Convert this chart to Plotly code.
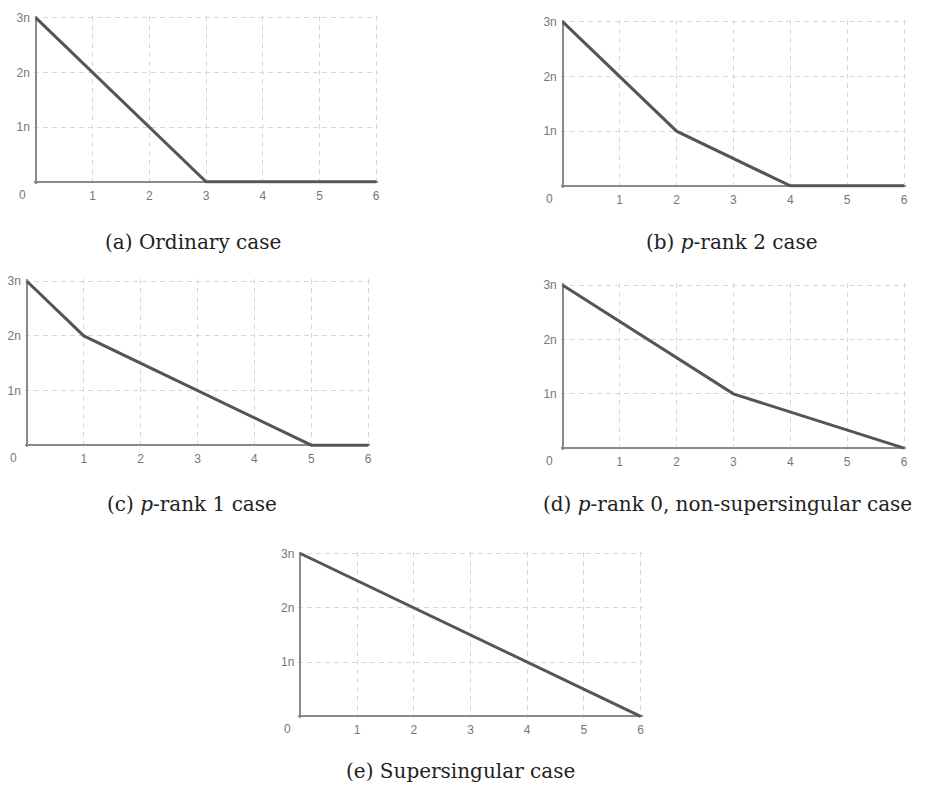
import plotly.graph_objects as go

# Data: Newton-polygon-like slopes for each case
xa = [0, 3, 6]
ya = [3, 0, 0]
xb = [0, 2, 4, 6]
yb = [3, 1, 0, 0]
xc = [0, 1, 5, 6]
yc = [3, 2, 0, 0]
xd = [0, 3, 6]
yd = [3, 1, 0]
xe = [0, 6]
ye = [3, 0]

x_ticks = [1, 2, 3, 4, 5, 6]
x_labels = ["1", "2", "3", "4", "5", "6"]
y_ticks = [1, 2, 3]
y_labels = ["1n", "2n", "3n"]

captions = [
    "(a) Ordinary case",
    "(b) <i>p</i>-rank 2 case",
    "(c) <i>p</i>-rank 1 case",
    "(d) <i>p</i>-rank 0, non-supersingular case",
    "(e) Supersingular case",
]

W, H = 925, 790
# pixel boxes of each plot area: (left, right, top, bottom)
boxes = [
    (36, 377, 13, 178),
    (564, 906, 17, 182),
    (27, 369, 278, 443),
    (564, 906, 282, 446),
    (301, 642, 552, 716),
]
caption_pos = [(193, 239), (733, 239), (192, 502), (729, 502), (461, 771)]

series = [(xa, ya), (xb, yb), (xc, yc), (xd, yd), (xe, ye)]

fig = go.Figure()
PADX = 0.035
PADY = 0.035
annotations = []
tick_font = dict(family="Liberation Sans, Arial", size=12, color="#777777")
for i, ((x, y), (l, r, t, b)) in enumerate(zip(series, boxes)):
    n = "" if i == 0 else str(i + 1)
    fig.add_trace(go.Scatter(x=x, y=y, mode="lines",
                             line=dict(color="#555555", width=3),
                             xaxis="x" + n, yaxis="y" + n,
                             showlegend=False, hoverinfo="skip"))
    xpx = (r - l) / 6.0
    ypx = (b - t) / 3.0
    dl = l - PADX * xpx
    dr = r + PADX * xpx
    dt = t - PADY * ypx
    db = b + PADY * ypx
    fig.layout["xaxis" + n] = dict(
        domain=[dl / W, dr / W], range=[-PADX, 6 + PADX],
        anchor="y" + n, tickvals=x_ticks, ticktext=x_labels,
        showgrid=True, gridcolor="#d8d8d8", griddash="5px,4px", gridwidth=1,
        zeroline=True, zerolinecolor="#8a8a8a", zerolinewidth=2,
        showline=False, ticks="", fixedrange=True,
        tickfont=tick_font, ticklabelstandoff=3,
    )
    fig.layout["yaxis" + n] = dict(
        domain=[1 - db / H, 1 - dt / H], range=[-PADY, 3 + PADY],
        anchor="x" + n, tickvals=y_ticks, ticktext=y_labels,
        showgrid=True, gridcolor="#d8d8d8", griddash="5px,4px", gridwidth=1,
        zeroline=True, zerolinecolor="#8a8a8a", zerolinewidth=2,
        showline=False, ticks="", fixedrange=True,
        tickfont=tick_font, ticklabelstandoff=3,
    )
    annotations.append(dict(
        x=0, y=0, xref="x" + n, yref="y" + n, text="0", showarrow=False,
        xshift=-13, yshift=-13, font=tick_font))

for cap, (cx, cy) in zip(captions, caption_pos):
    annotations.append(dict(
        x=cx / W, y=1 - cy / H, xref="paper", yref="paper", text=cap,
        showarrow=False, xanchor="center", yanchor="middle",
        font=dict(family="DejaVu Serif", size=20, color="#222222")))

fig.update_layout(
    width=W, height=H,
    margin=dict(l=0, r=0, t=0, b=0),
    paper_bgcolor="white", plot_bgcolor="white",
    annotations=annotations,
    showlegend=False,
)

fig.write_html("out.html")
